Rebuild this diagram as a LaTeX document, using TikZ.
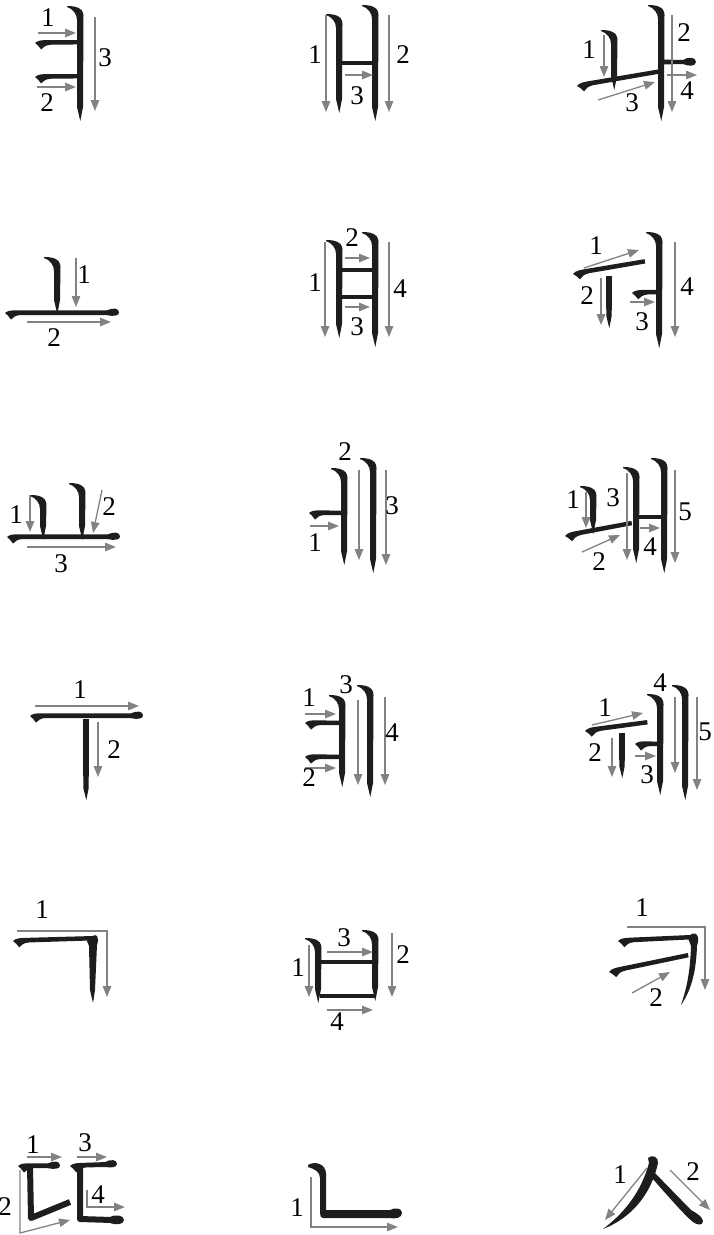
\documentclass[tikz,border=0pt]{standalone}
\usepackage{fontspec}
\setmainfont{Liberation Serif}
\usepackage{tikz}
\usetikzlibrary{arrows.meta}
\definecolor{inkblack}{RGB}{30,28,28}
\definecolor{arrowgray}{RGB}{130,130,132}
\tikzset{
  ink/.style={fill=inkblack},
  bar/.style={draw=inkblack, line width=3.8pt},
  stk/.style={draw=inkblack, line width=6pt, line join=round},
  arr/.style={
    draw=arrowgray,
    line width=1.3pt,
    -{Triangle[length=11pt,width=8.5pt]}
  },
  num/.style={font=\fontsize{27}{32}\selectfont, inner sep=0pt}
}
% vertical stroke with hooked head: x, top, bottom
\newcommand{\vstroke}[3]{%
  \fill[ink] ({#1-13},{#2+1}) .. controls ({#1-6},{#2+1}) and ({#1+3.5},{#2+2}) .. ({#1+3.5},{#2+11})
    -- ({#1+3},{#3-14}) -- ({#1+0.3},{#3}) -- ({#1-3},{#3-14}) -- ({#1-3},{#2+15})
    .. controls ({#1-3},{#2+9}) and ({#1-7},{#2+4}) .. ({#1-13},{#2+2}) -- cycle;}
% vertical stroke without head
\newcommand{\vplain}[3]{%
  \fill[ink] ({#1-3},#2) -- ({#1+3},#2) -- ({#1+2.7},{#3-12}) -- ({#1+0.3},#3)
    -- ({#1-2.7},{#3-12}) -- cycle;}
% horizontal stroke, brush start, flat end: x, y, length, angle
\newcommand{\hflat}[4]{%
  \begin{scope}[shift={(#1,#2)}, rotate=#4]
    \fill[ink] (0,0) .. controls (3,-2.7) and (7,-2.7) .. (12,-2.7) -- (#3,-2.2) -- (#3,2.2)
      -- (16,2) .. controls (11,2.2) and (8,4) .. (6,6.5) .. controls (4,3.5) and (2,1.5) .. (0,0) -- cycle;
  \end{scope}}
% horizontal stroke, brush start, round end: x, y, length, angle
\newcommand{\hblob}[4]{%
  \begin{scope}[shift={(#1,#2)}, rotate=#4]
    \fill[ink] (0,0) .. controls (3,-2.7) and (7,-2.7) .. (12,-2.7) -- ({#3-12},-2.7)
      .. controls ({#3-6},-5.5) and (#3,-5) .. (#3,-0.5) .. controls (#3,3) and ({#3-6},3.5) .. ({#3-12},2.2)
      -- (16,2) .. controls (11,2.2) and (8,4) .. (6,6.5) .. controls (4,3.5) and (2,1.5) .. (0,0) -- cycle;
  \end{scope}}

\begin{document}
\begin{tikzpicture}[x=1pt, y=-1pt]
  \useasboundingbox (0,0) rectangle (714,1235);

  % yeo
  \vstroke{80}{5}{121}
  \hflat{35}{43}{44}{1}
  \hflat{35}{77}{44}{1}
  \draw[arr] (38,33) -- (76,33);
  \draw[arr] (37,87) -- (76,87);
  \draw[arr] (95,17) -- (95,111);
  \node[num] (yeo1) at (48,18) {1};
  \node[num] (yeo2) at (47,103) {2};
  \node[num] (yeo3) at (105,58) {3};

  % ae
  \vstroke{339}{13}{113}
  \vstroke{375}{4}{121}
  \draw[bar] (340,63) -- (375,63);
  \draw[arr] (326,15) -- (326,112);
  \draw[arr] (389,15) -- (389,112);
  \draw[arr] (345,75) -- (373,75);
  \node[num] (ae1) at (315,55) {1};
  \node[num] (ae2) at (403,55) {2};
  \node[num] (ae3) at (357,96) {3};

  % wa
  \vstroke{614}{29}{90}
  \vstroke{661}{4}{121}
  \hflat{577}{86}{83}{10}
  \fill[ink] (663,59.5) -- (683,60) .. controls (688,56.5) and (696,57) .. (696,62)
    .. controls (696,66.5) and (688,66.5) .. (683,64) -- (663,64.5) -- cycle;
  \draw[arr] (604,35) -- (604,77);
  \draw[arr] (598,100) -- (655,82);
  \draw[arr] (672,15) -- (672,112);
  \draw[arr] (667,75) -- (697,75);
  \node[num] (wa1) at (589,50) {1};
  \node[num] (wa2) at (684,33) {2};
  \node[num] (wa3) at (632,103) {3};
  \node[num] (wa4) at (687,91) {4};

  % o
  \vstroke{57}{256}{314}
  \hblob{5}{313}{114}{0}
  \draw[arr] (76,258) -- (76,307);
  \draw[arr] (27,322) -- (111,322);
  \node[num] (o1) at (84,275) {1};
  \node[num] (o2) at (54,338) {2};

  % yae
  \vstroke{339}{239}{338}
  \vstroke{375}{231}{347}
  \draw[bar] (340,270) -- (375,270);
  \draw[bar] (340,297) -- (375,297);
  \draw[arr] (325,242) -- (325,337);
  \draw[arr] (345,258) -- (370,258);
  \draw[arr] (345,307) -- (370,307);
  \draw[arr] (389,242) -- (389,337);
  \node[num] (yae1) at (315,283) {1};
  \node[num] (yae2) at (352,238) {2};
  \node[num] (yae3) at (357,327) {3};
  \node[num] (yae4) at (400,289) {4};

  % wo
  \hflat{573}{274}{73}{10}
  \vplain{609}{276}{328}
  \hflat{632}{293}{26}{2}
  \vstroke{659}{231}{348}
  \draw[arr] (584,268) -- (639,250);
  \draw[arr] (601,278) -- (601,325);
  \draw[arr] (630,302) -- (655,302);
  \draw[arr] (675,242) -- (675,337);
  \node[num] (wo1) at (596,246) {1};
  \node[num] (wo2) at (587,296) {2};
  \node[num] (wo3) at (642,322) {3};
  \node[num] (wo4) at (687,287) {4};

  % yo
  \vstroke{43}{494}{540}
  \vstroke{82}{482}{540}
  \hblob{7}{537}{113}{0}
  \draw[arr] (30,495) -- (30,532);
  \draw[arr] (102,490) -- (93,533);
  \draw[arr] (27,547) -- (116,547);
  \node[num] (yo1) at (16,515) {1};
  \node[num] (yo2) at (109,507) {2};
  \node[num] (yo3) at (61,564) {3};

  % e
  \hflat{309}{513}{34}{0}
  \vstroke{344}{467}{565}
  \vstroke{373}{457}{573}
  \draw[arr] (310,526) -- (339,526);
  \draw[arr] (359,470) -- (359,560);
  \draw[arr] (386,470) -- (386,565);
  \node[num] (e1) at (315,543) {1};
  \node[num] (e2) at (345,452) {2};
  \node[num] (e3) at (392,506) {3};

  % wae
  \vstroke{593}{485}{534}
  \hflat{565}{536}{68}{11}
  \vstroke{636}{466}{563}
  \vstroke{664}{457}{573}
  \draw[bar] (638,517) -- (664,517);
  \draw[arr] (586,492) -- (586,528);
  \draw[arr] (582,552) -- (620,535);
  \draw[arr] (627,473) -- (627,560);
  \draw[arr] (640,528) -- (660,528);
  \draw[arr] (675,470) -- (675,563);
  \node[num] (wae1) at (573,500) {1};
  \node[num] (wae2) at (599,562) {2};
  \node[num] (wae3) at (613,498) {3};
  \node[num] (wae4) at (650,547) {4};
  \node[num] (wae5) at (685,512) {5};

  % u
  \hblob{30}{716}{113}{0}
  \vplain{86}{719}{800}
  \draw[arr] (35,706) -- (139,706);
  \draw[arr] (98,722) -- (98,777);
  \node[num] (u1) at (80,690) {1};
  \node[num] (u2) at (114,750) {2};

  % ye
  \hflat{305}{723}{37}{0}
  \hflat{305}{757}{37}{0}
  \vstroke{342}{694}{787}
  \vstroke{370}{684}{797}
  \draw[arr] (305,714) -- (336,714);
  \draw[arr] (305,768) -- (336,768);
  \draw[arr] (358,700) -- (358,785);
  \draw[arr] (385,697) -- (385,785);
  \node[num] (ye1) at (309,698) {1};
  \node[num] (ye2) at (309,778) {2};
  \node[num] (ye3) at (346,685) {3};
  \node[num] (ye4) at (392,733) {4};

  % we
  \hflat{585}{731}{63}{8}
  \vplain{622}{733}{778}
  \hflat{635}{744}{25}{0}
  \vstroke{660}{693}{795}
  \vstroke{685}{684}{800}
  \draw[arr] (592,725) -- (643,713);
  \draw[arr] (612,738) -- (612,777);
  \draw[arr] (635,756) -- (656,756);
  \draw[arr] (675,697) -- (675,773);
  \draw[arr] (697,697) -- (697,790);
  \node[num] (we1) at (605,708) {1};
  \node[num] (we2) at (595,753) {2};
  \node[num] (we3) at (647,775) {3};
  \node[num] (we4) at (660,683) {4};
  \node[num] (we5) at (705,732) {5};

  % giyeok
  \hflat{13}{941}{82}{2}
  \fill[ink] (87,941) .. controls (91,936) and (95,934) .. (97,936) .. controls (99,938) and (98,941) .. (97,945)
    -- (95,990) -- (93,1003) -- (90,990) -- (89,946) -- cycle;
  \draw[arr] (17,931) -- (107,931) -- (107,997);
  \node[num] (g1) at (42,910) {1};

  % bieup
  \vstroke{318}{937}{1003}
  \vstroke{375}{929}{1001}
  \draw[bar] (320,962) -- (375,962);
  \draw[bar] (320,996) -- (375,996);
  \draw[arr] (309,945) -- (309,997);
  \draw[arr] (392,933) -- (392,997);
  \draw[arr] (327,952) -- (373,952);
  \draw[arr] (327,1010) -- (373,1010);
  \node[num] (b1) at (298,968) {1};
  \node[num] (b2) at (403,955) {2};
  \node[num] (b3) at (344,938) {3};
  \node[num] (b4) at (337,1022) {4};

  % kieuk
  \hflat{618}{941}{75}{3}
  \fill[ink] (688,938) .. controls (691,933) and (695,932) .. (697,935) .. controls (699,938) and (698,942) .. (697,946)
    .. controls (696,975) and (690,992) .. (681,1005) .. controls (686,990) and (690,975) .. (691,946) -- cycle;
  \hflat{609}{972}{81}{12}
  \draw[arr] (627,927) -- (705,927) -- (705,990);
  \draw[arr] (632,993) -- (670,972);
  \node[num] (k1) at (642,908) {1};
  \node[num] (k2) at (656,998) {2};

  % ssangdigeut
  \hblob{18}{1166}{42}{0}
  \draw[stk] (30,1166) -- (31,1218) -- (70,1202);
  \hblob{70}{1166}{47}{2}
  \draw[stk] (80,1166) -- (80,1219) -- (112,1220);
  \fill[ink] (110,1217) .. controls (115,1214) and (124,1215) .. (124,1220)
    .. controls (124,1225) and (115,1225) .. (110,1223) -- cycle;
  \draw[arr] (27,1157) -- (62,1157);
  \draw[arr] (77,1157) -- (107,1157);
  \draw[arr] (20,1170) -- (20,1233) -- (70,1220);
  \draw[arr] (87,1190) -- (87,1207) -- (125,1207);
  \node[num] (dd1) at (33,1145) {1};
  \node[num] (dd2) at (5,1207) {2};
  \node[num] (dd3) at (85,1143) {3};
  \node[num] (dd4) at (98,1195) {4};

  % nieun
  \fill[ink] (308,1165) .. controls (314,1161) and (326,1163) .. (326,1174) -- (326,1210) -- (390,1210)
    .. controls (395,1207) and (402,1208) .. (402,1213) .. controls (402,1218) and (395,1219) .. (390,1218)
    -- (323,1218) .. controls (321,1218) and (320,1216) .. (320,1213) -- (320,1178)
    .. controls (320,1172) and (315,1169) .. (308,1167) -- cycle;
  \draw[arr] (311,1177) -- (311,1227) -- (398,1227);
  \node[num] (n1) at (297,1208) {1};

  % siot
  \fill[ink] (648,1158) .. controls (652,1154) and (659,1157) .. (658,1163)
    .. controls (651,1195) and (631,1218) .. (603,1229) .. controls (623,1214) and (641,1193) .. (649,1163) -- cycle;
  \fill[ink] (654,1172) -- (691,1210) .. controls (696,1213) and (702,1216) .. (703,1221)
    .. controls (703,1226) and (697,1225) .. (693,1222) .. controls (688,1218) and (680,1210) .. (652,1178) -- cycle;
  \draw[arr] (647,1168) -- (605,1220);
  \draw[arr] (670,1170) -- (710,1210);
  \node[num] (s1) at (620,1175) {1};
  \node[num] (s2) at (693,1172) {2};

\end{tikzpicture}
\end{document}
